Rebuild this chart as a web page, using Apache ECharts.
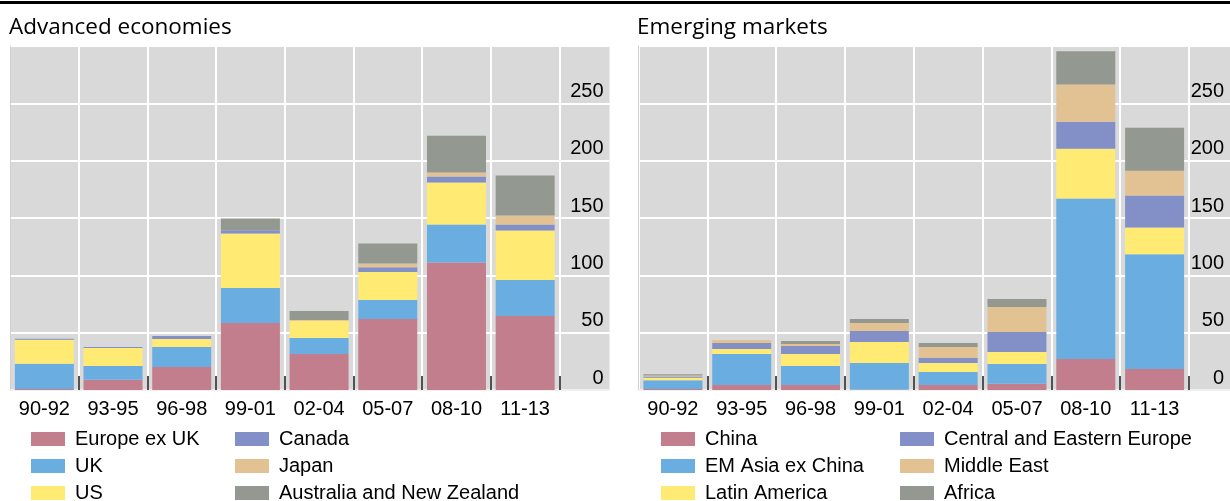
<!DOCTYPE html>
<html>
<head>
<meta charset="utf-8">
<script src="https://cdn.jsdelivr.net/npm/echarts@6/dist/echarts.min.js"></script>
<style>
  html, body { margin: 0; padding: 0; background: #fff; }
  #chart { width: 1230px; height: 501px; }
</style>
</head>
<body>
<div id="chart"></div>
<script>
// periods on the x axis
const categories = ["90-92", "93-95", "96-98", "99-01", "02-04", "05-07", "08-10", "11-13"];

// Advanced economies (stack order bottom -> top)
const europeExUK = [0.8, 9, 20, 58.4, 31.4, 61.9, 111.3, 64.5];
const uk = [22, 11.9, 17.4, 30.6, 13.9, 16.6, 33, 31.4];
const us = [21, 15.7, 7, 47.5, 15.2, 24.5, 36.6, 43.2];
const canada = [0.8, 0.9, 2.6, 2.9, 0, 4, 5.2, 5.2];
const japan = [0, 0, 0, 0, 0.5, 3.4, 3.5, 7.9];
const ausNz = [0, 0, 0, 10.2, 7.9, 17.4, 32.1, 34.8];

// Emerging markets
const china = [0.8, 4.4, 4.4, 0.4, 4.4, 5.5, 27, 18.3];
const emAsiaExChina = [7.7, 27, 16.5, 23.1, 11.3, 17.2, 140, 100];
const latinAmerica = [2.1, 4.4, 10.5, 18.4, 7.8, 10.4, 43.4, 23.4];
const ceEurope = [1.1, 5.2, 7, 9.6, 4.4, 17.5, 23.6, 27.9];
const middleEast = [0.9, 2.6, 1.7, 6.9, 9.6, 21.8, 32.5, 21.7];
const africa = [1.2, 0, 2.6, 3.5, 3.5, 7, 29, 37.4];

// y axis scale
const yMin = 0;
const yMax = 300;
const yStep = 50;

const colors = ["#c27e8d", "#6aade0", "#ffea73", "#8290c7", "#e2c292", "#939990"];
const advNames = ["Europe ex UK", "UK", "US", "Canada", "Japan", "Australia and New Zealand"];
const emNames = ["China", "EM Asia ex China", "Latin America", "Central and Eastern Europe", "Middle East", "Africa"];
const advData = [europeExUK, uk, us, canada, japan, ausNz];
const emData = [china, emAsiaExChina, latinAmerica, ceEurope, middleEast, africa];

const labelFont = "Liberation Sans, Arial, sans-serif";
const bg = "#d9d9d9";

function gridBox(left, width) {
  return { left: left, top: 46, width: width, height: 344, show: true, backgroundColor: bg, borderWidth: 0, containLabel: false };
}

function barXAxis(gridIndex) {
  return {
    type: "category",
    gridIndex: gridIndex,
    position: "bottom",
    data: categories,
    axisLine: { show: true, lineStyle: { color: "#ececec", width: 1.5 } },
    axisTick: { show: false },
    axisLabel: { color: "#000", fontFamily: labelFont, fontSize: 20, margin: 9, interval: 0 },
    splitLine: { show: true, interval: 0, lineStyle: { color: "#fff", width: 2 } }
  };
}

// extra axis on the bar grid, only for the short dark ticks between bars
// (none on the left edge of the plot)
function tickXAxis(gridIndex) {
  return {
    type: "value",
    gridIndex: gridIndex,
    position: "bottom",
    offset: 0,
    min: 0, max: categories.length,
    axisLine: { show: false },
    axisLabel: { show: false },
    splitLine: { show: false },
    axisTick: {
      show: true, inside: true, length: 14,
      customValues: categories.map((c, i) => i + 1),
      lineStyle: { color: "#1a1a1a", width: 1.5 }
    }
  };
}

function stripXAxis(gridIndex) {
  return {
    type: "category",
    gridIndex: gridIndex,
    data: [""],
    axisLine: { show: true, lineStyle: { color: "#ececec", width: 1.5 } },
    axisTick: { show: false },
    axisLabel: { show: false },
    splitLine: { show: false }
  };
}

function barYAxis(gridIndex) {
  return {
    type: "value",
    gridIndex: gridIndex,
    min: yMin, max: yMax, interval: yStep,
    position: "left",
    axisLine: { show: true, lineStyle: { color: "#d0d0d0", width: 1 } },
    axisTick: { show: false },
    axisLabel: { show: false },
    splitLine: { show: true, lineStyle: { color: "#fff", width: 2 } }
  };
}

function stripYAxis(gridIndex) {
  return {
    type: "value",
    gridIndex: gridIndex,
    min: yMin, max: yMax, interval: yStep,
    position: "right",
    axisLine: { show: false },
    axisTick: { show: false },
    axisLabel: {
      inside: true, margin: 6, color: "#000", fontFamily: labelFont, fontSize: 20,
      verticalAlign: "bottom", padding: [0, 0, 2, 0], showMaxLabel: false
    },
    splitLine: { show: true, lineStyle: { color: "#fff", width: 2 } }
  };
}

function makeSeries(names, data, axisIndex, stack) {
  return names.map((name, i) => ({
    name: name,
    type: "bar",
    stack: stack,
    xAxisIndex: axisIndex,
    yAxisIndex: axisIndex,
    barWidth: 59,
    data: data[i],
    itemStyle: { color: colors[i] },
    emphasis: { disabled: true }
  }));
}

function legendCol(left, names) {
  return {
    orient: "vertical",
    left: left,
    top: 429,
    height: 90,
    padding: 0,
    itemWidth: 34,
    itemHeight: 14,
    itemGap: 7,
    icon: "rect",
    selectedMode: false,
    data: names,
    textStyle: { color: "#000", fontFamily: labelFont, fontSize: 20, lineHeight: 18, padding: [0, 0, 0, 5] }
  };
}

const chart = echarts.init(document.getElementById("chart"), null, { renderer: "canvas" });

const option = {
  animation: false,
  title: [
    { text: "Advanced economies", left: 9, top: 16, padding: 0,
      textStyle: { fontFamily: "Open Sans", fontSize: 22.5, fontWeight: "normal", color: "#000" } },
    { text: "Emerging markets", left: 637, top: 16, padding: 0,
      textStyle: { fontFamily: "Open Sans", fontSize: 22.5, fontWeight: "normal", color: "#000" } }
  ],
  graphic: [
    { type: "rect", left: 0, top: 1, shape: { width: 1230, height: 3 }, style: { fill: "#000" } }
  ],
  grid: [
    gridBox(10, 549.5),
    gridBox(559.5, 50),
    gridBox(638.5, 550.5),
    gridBox(1189, 50)
  ],
  xAxis: [barXAxis(0), stripXAxis(1), barXAxis(2), stripXAxis(3), tickXAxis(0), tickXAxis(2)],
  yAxis: [barYAxis(0), stripYAxis(1), barYAxis(2), stripYAxis(3)],
  legend: [
    legendCol(31, advNames.slice(0, 3)),
    legendCol(235, advNames.slice(3)),
    legendCol(661, emNames.slice(0, 3)),
    legendCol(900, emNames.slice(3))
  ],
  series: [
    ...makeSeries(advNames, advData, 0, "adv"),
    ...makeSeries(emNames, emData, 2, "em")
  ]
};

chart.setOption(option);
</script>
</body>
</html>
